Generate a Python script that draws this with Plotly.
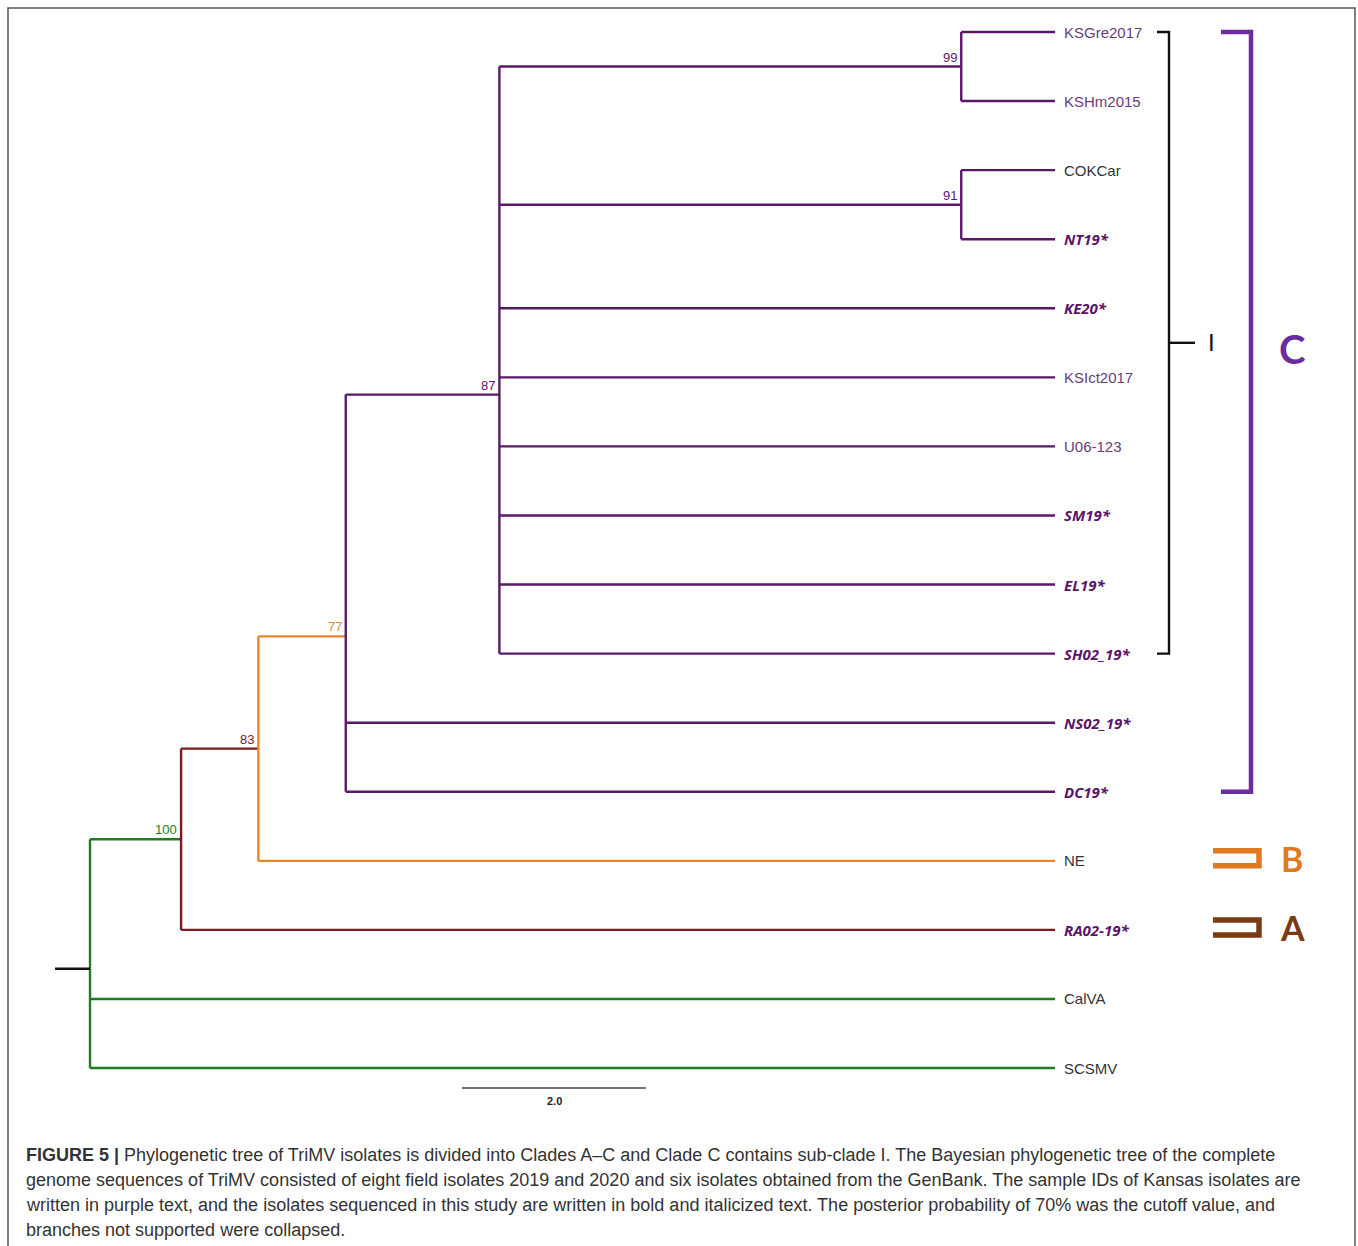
import plotly.graph_objects as go

# ---------------- data ----------------
TIP_NAMES = ["KSGre2017", "KSHm2015", "COKCar", "NT19*", "KE20*", "KSIct2017",
             "U06-123", "SM19*", "EL19*", "SH02_19*", "NS02_19*", "DC19*",
             "NE", "RA02-19*", "CalVA", "SCSMV"]
TIP_PARENT = ["n99", "n99", "n91", "n91", "n87", "n87", "n87", "n87", "n87",
              "n87", "n77", "n77", "n83", "n100", "root", "root"]
TIP_DEPTH = [10.49, 10.49, 10.49, 10.49, 10.49, 10.49, 10.49, 10.49, 10.49,
             10.49, 10.49, 10.49, 10.49, 10.49, 10.49, 10.49]
TIP_GROUP = ["kansas", "kansas", "other", "study", "study", "kansas",
             "kansas", "study", "study", "study", "study", "study",
             "other", "study", "other", "other"]

NODE_NAMES = ["root", "n100", "n83", "n77", "n87", "n99", "n91"]
NODE_PARENT = [None, "root", "n100", "n83", "n77", "n87", "n87"]
NODE_DEPTH = [0.0, 0.99, 1.83, 2.78, 4.45, 9.47, 9.47]
NODE_SUPPORT = [None, 100, 83, 77, 87, 99, 91]
ROOT_STUB = 0.38
SCALE_LEN = 2.0

# clades (tip spans)
SUBCLADE_I = ("KSGre2017", "SH02_19*")
CLADE_C = ("KSGre2017", "DC19*")
CLADE_B = "NE"
CLADE_A = "RA02-19*"

# ---------------- styles ----------------
W, H = 1358, 1246
X0_PX, PX_PER_UNIT = 90.0, 92.0
Y0_PX, PX_PER_TIP = 32.0, 69.07


def ux(px):
    return (px - X0_PX) / PX_PER_UNIT


def uy(py):
    return (py - Y0_PX) / PX_PER_TIP


PURPLE = "#5a1868"
GREEN = "#1f7d1f"
DARKRED = "#7e1a1a"
ORANGE = "#e8862c"
NODE_COLOR = {"root": GREEN, "n100": DARKRED, "n83": ORANGE, "n77": PURPLE,
              "n87": PURPLE, "n99": PURPLE, "n91": PURPLE}
LABEL_STYLE = {
    "kansas": dict(color="#6a3c7a", family="Liberation Sans, Arial", pre="", post="", size=15),
    "study": dict(color="#5a1468", family="Open Sans, sans-serif", pre="<b><i>", post="</i></b>", size=15),
    "other": dict(color="#333333", family="Liberation Sans, Arial", pre="", post="", size=15),
}

# ---------------- layout computation ----------------
pos_y = {n: i for i, n in enumerate(TIP_NAMES)}
depth = {n: d for n, d in zip(TIP_NAMES, TIP_DEPTH)}
depth.update({n: d for n, d in zip(NODE_NAMES, NODE_DEPTH)})
parent = {n: p for n, p in zip(TIP_NAMES, TIP_PARENT)}
parent.update({n: p for n, p in zip(NODE_NAMES, NODE_PARENT)})
children = {n: [] for n in NODE_NAMES}
for n, p in parent.items():
    if p is not None:
        children[p].append(n)


def get_y(n):
    if n in pos_y:
        return pos_y[n]
    ys = [get_y(c) for c in children[n]]
    pos_y[n] = sum(ys) / len(ys)
    return pos_y[n]


for n in NODE_NAMES:
    get_y(n)

segs = {}


def add_seg(color, x0, y0, x1, y1):
    xs, ys = segs.setdefault(color, ([], []))
    xs += [x0, x1, None]
    ys += [y0, y1, None]


for n in NODE_NAMES:
    c = NODE_COLOR[n]
    cys = [pos_y[ch] for ch in children[n]]
    add_seg(c, depth[n], min(cys), depth[n], max(cys))
    for ch in children[n]:
        add_seg(c, depth[n], pos_y[ch], depth[ch], pos_y[ch])

add_seg("#111111", -ROOT_STUB, pos_y["root"], 0.0, pos_y["root"])

fig = go.Figure()
for color, (xs, ys) in segs.items():
    fig.add_trace(go.Scatter(x=xs, y=ys, mode="lines",
                             line=dict(color=color, width=2.4),
                             hoverinfo="skip", showlegend=False))

ann = []
# tip labels
for n, g in zip(TIP_NAMES, TIP_GROUP):
    st = LABEL_STYLE[g]
    ann.append(dict(x=depth[n], y=pos_y[n], text=st["pre"] + n + st["post"],
                    xanchor="left", yanchor="middle", xshift=7, showarrow=False,
                    font=dict(size=st["size"], color=st["color"], family=st["family"])))
# support values
for n, s in zip(NODE_NAMES, NODE_SUPPORT):
    if s is None:
        continue
    col = NODE_COLOR[parent[n]]
    ann.append(dict(x=depth[n], y=pos_y[n], text=str(s), xanchor="right",
                    yanchor="bottom", xshift=-2, yshift=0, showarrow=False,
                    font=dict(size=13, color=col, family="Liberation Sans, Arial")))

shapes = []
# sub-clade I bracket
yt, yb = pos_y[SUBCLADE_I[0]], pos_y[SUBCLADE_I[1]]
xa, xb = ux(1157), ux(1169)
shapes.append(dict(type="path", xref="x", yref="y",
                   path=f"M {xa},{yt} L {xb},{yt} L {xb},{yb} L {xa},{yb}",
                   line=dict(color="#111111", width=2.4)))
ym = (yt + yb) / 2
shapes.append(dict(type="line", xref="x", yref="y", x0=xb, x1=ux(1195), y0=ym, y1=ym,
                   line=dict(color="#111111", width=2.4)))
ann.append(dict(x=ux(1211), y=ym, text="I", showarrow=False, xanchor="center",
                yanchor="middle", font=dict(size=24, color="#111111", family="Liberation Sans, Arial")))

# clade C bracket
yt, yb = pos_y[CLADE_C[0]], pos_y[CLADE_C[1]]
xa, xb = ux(1221), ux(1251)
shapes.append(dict(type="path", xref="x", yref="y",
                   path=f"M {xa},{yt} L {xb},{yt} L {xb},{yb} L {xa},{yb}",
                   line=dict(color="#6a2c9e", width=4.5)))
ann.append(dict(x=ux(1292), y=uy(349), text="<b>C</b>", showarrow=False,
                xanchor="center", yanchor="middle",
                font=dict(size=40, color="#6a2c9e", family="Lato, sans-serif")))

# clade B and A brackets
for tip, col, letter in [(CLADE_B, "#e07a1f", "B"), (CLADE_A, "#7a3a12", "A")]:
    yc = pos_y[tip] - (2.5 / PX_PER_TIP)
    h = 7.5 / PX_PER_TIP
    xa, xb = ux(1213), ux(1259)
    shapes.append(dict(type="path", xref="x", yref="y",
                       path=f"M {xa},{yc - h} L {xb},{yc - h} L {xb},{yc + h} L {xa},{yc + h}",
                       line=dict(color=col, width=5.5)))
    ann.append(dict(x=ux(1292), y=yc, text=f"<b>{letter}</b>", showarrow=False,
                    xanchor="center", yanchor="middle",
                    font=dict(size=34, color=col, family="Lato, sans-serif")))

# scale bar
sx0 = ux(462)
sy = uy(1088)
fig.add_trace(go.Scatter(x=[sx0, sx0 + SCALE_LEN], y=[sy, sy], mode="lines",
                         line=dict(color="#444444", width=1.5), hoverinfo="skip",
                         showlegend=False))
ann.append(dict(x=sx0 + SCALE_LEN / 2, y=uy(1101), text="<b>2.0</b>", showarrow=False,
                xanchor="center", yanchor="middle",
                font=dict(size=11, color="#222222", family="Liberation Sans, Arial")))

# caption
CAPTION = [
    "<b>FIGURE 5 |</b> Phylogenetic tree of TriMV isolates is divided into Clades A–C and Clade C contains sub-clade I. The Bayesian phylogenetic tree of the complete",
    "genome sequences of TriMV consisted of eight field isolates 2019 and 2020 and six isolates obtained from the GenBank. The sample IDs of Kansas isolates are",
    "written in purple text, and the isolates sequenced in this study are written in bold and italicized text. The posterior probability of 70% was the cutoff value, and",
    "branches not supported were collapsed.",
]
for i, line in enumerate(CAPTION):
    ann.append(dict(xref="paper", yref="paper", x=24 / W, y=1 - (1155 + 25 * i) / H,
                    text=line, showarrow=False, xanchor="left", yanchor="middle",
                    font=dict(size=18, color="#333333",
                              family="Liberation Sans Narrow, Arial Narrow, Liberation Sans, Arial")))

# frame
shapes.append(dict(type="rect", xref="paper", yref="paper", x0=8 / W, x1=1355 / W,
                   y0=1 - 1252 / H, y1=1 - 8 / H, line=dict(color="#555555", width=1.5)))

fig.update_layout(
    width=W, height=H, margin=dict(l=0, r=0, t=0, b=0),
    paper_bgcolor="white", plot_bgcolor="white",
    xaxis=dict(range=[ux(0), ux(W)], visible=False, fixedrange=True),
    yaxis=dict(range=[uy(H), uy(0)], visible=False, fixedrange=True),
    annotations=ann, shapes=shapes, showlegend=False, hovermode=False,
)
fig.write_html("out.html", config={"displayModeBar": False},
               post_script="document.body.style.margin='0';document.body.style.overflow='hidden';")
